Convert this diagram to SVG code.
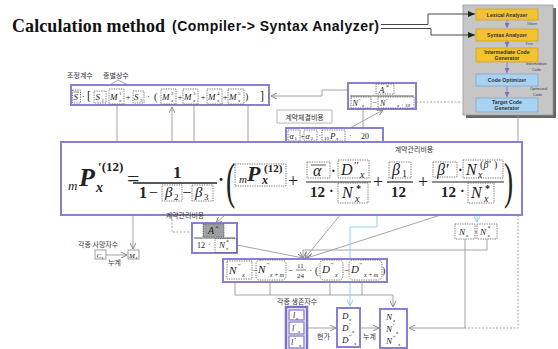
<svg xmlns="http://www.w3.org/2000/svg" width="558" height="349" viewBox="0 0 558 349">
<defs>
<marker id="ag" markerWidth="6" markerHeight="6" refX="6" refY="3" orient="auto" markerUnits="userSpaceOnUse"><path d="M0,0 L6,3 L0,6" fill="none" stroke="#888" stroke-width="1"/></marker>
<marker id="ad" markerWidth="7" markerHeight="6" refX="7" refY="3" orient="auto" markerUnits="userSpaceOnUse"><path d="M0,0 L7,3 L0,6 z" fill="#222"/></marker>
<marker id="ac" markerWidth="6" markerHeight="6" refX="6" refY="3" orient="auto" markerUnits="userSpaceOnUse"><path d="M0,0 L6,3 L0,6" fill="none" stroke="#8fd3e3" stroke-width="1"/></marker>
<marker id="ap" markerWidth="5" markerHeight="5" refX="5" refY="2.5" orient="auto" markerUnits="userSpaceOnUse"><path d="M0,0 L5,2.5 L0,5 z" fill="#7a70c8"/></marker>
</defs>
<style>
.pb{fill:#fff;stroke:#8a80d0;stroke-width:2}
.db{fill:none;stroke:#555;stroke-width:0.8;stroke-dasharray:1.3 1.1}
.ln{fill:none;stroke:#9a9a9a;stroke-width:0.9}
.dl{fill:none;stroke:#9a9a9a;stroke-width:0.9;stroke-dasharray:2 1.5}
.cy{fill:none;stroke:#8fd3e3;stroke-width:1}
.m{font-family:"Liberation Serif",serif;font-style:italic;fill:#222}
.n{font-family:"Liberation Serif",serif;fill:#222}
.b{font-weight:bold}
.k{font-family:"Noto Sans CJK KR",sans-serif;font-size:7px;fill:#333}
.yb{fill:#f2c230;stroke:#c99a10;stroke-width:0.6}
.bb{fill:#a9d2f2;stroke:#6f9fc8;stroke-width:0.6}
.pt{font-family:"Liberation Sans",sans-serif;font-weight:bold;font-size:5.2px;fill:#333;text-anchor:middle}
.pl{font-family:"Liberation Sans",sans-serif;font-size:3.8px;fill:#444;text-anchor:end}
</style>
<rect width="558" height="349" fill="#fff"/>

<g id="title">
<text x="12" y="32" font-family="Liberation Serif" font-weight="bold" font-size="18" textLength="153" fill="#111">Calculation method</text>
<text x="172" y="31" font-family="Liberation Sans" font-weight="bold" font-size="14" textLength="207" fill="#111">(Compiler-&gt; Syntax Analyzer)</text>
</g>

<g id="compiler-panel">
<rect x="466" y="8" width="90" height="110" fill="#666"/>
<rect x="463" y="5" width="90" height="110" fill="#c6c6c6" stroke="#999" stroke-width="0.8"/>
<g id="lexical"><rect class="yb" x="476" y="9" width="62" height="11"/><text class="pt" x="507" y="16.5">Lexical Analyzer</text></g>
<g id="syntax"><rect class="yb" x="476" y="29" width="62" height="12"/><text class="pt" x="507" y="37">Syntax Analyzer</text></g>
<g id="intermediate"><rect class="yb" x="476" y="48" width="62" height="14"/><text class="pt" x="507" y="54">Intermediate Code</text><text class="pt" x="507" y="60">Generator</text></g>
<g id="optimizer"><rect class="bb" x="476" y="74" width="62" height="12"/><text class="pt" x="507" y="82">Code Optimizer</text></g>
<g id="target"><rect class="bb" x="476" y="98" width="62" height="14"/><text class="pt" x="507" y="104">Target Code</text><text class="pt" x="507" y="110">Generator</text></g>
<text class="pl" x="537" y="25">Token</text>
<text class="pl" x="533" y="45">Tree</text>
<text class="pl" x="547" y="65">Intermediate</text>
<text class="pl" x="541" y="71">Code</text>
<text class="pl" x="547" y="90">Optimized</text>
<text class="pl" x="542" y="96">Code</text>
</g>

<g id="connectors">
<path d="M381,24.5 H428 V14 H475" fill="none" stroke="#333" stroke-width="0.9" marker-end="url(#ad)"/>
<path d="M381,28.5 H431 V35 H475" fill="none" stroke="#333" stroke-width="0.9" marker-end="url(#ad)"/>
<path d="M507,20 V28" stroke="#7a70c8" stroke-width="0.8" marker-end="url(#ap)"/>
<path d="M507,41 V47" stroke="#7a70c8" stroke-width="0.8" marker-end="url(#ap)"/>
<path d="M507,62 V73" stroke="#7a70c8" stroke-width="0.8" marker-end="url(#ap)"/>
<path d="M507,86 V97" stroke="#7a70c8" stroke-width="0.8" marker-end="url(#ap)"/>
<path class="ln" d="M118,80 L108,86 M118,80 L130,86"/>
<path class="ln" d="M348,90 H322 V96 H271" marker-end="url(#ag)"/>
<path class="ln" d="M350,128 L383,110" marker-end="url(#ag)"/>
<path class="ln" d="M363,109 V128"/>
<path class="dl" d="M416,102 H462"/>
<path class="ln" d="M117,105 V166 M194,105 V166 M117,166 H194 M248,105 V164"/>
<path class="ln" d="M133,166 V249" marker-end="url(#ag)"/>
<path class="ln" d="M172,215 V107" marker-end="url(#ag)"/>
<path class="dl" d="M203,232 H172 V215"/>
<path class="ln" d="M258,186 L216,223" marker-end="url(#ag)"/>
<path class="ln" d="M172,201 L183,210" marker-end="url(#ag)"/>
<path class="ln" d="M202,201 L189,210" marker-end="url(#ag)"/>
<path class="ln" d="M416,154 L403,162" marker-end="url(#ag)"/>
<path class="ln" d="M419,154 L445,162" marker-end="url(#ag)"/>
<path class="ln" d="M106,255 H127" marker-end="url(#ag)"/>
<path class="ln" d="M237,245 L303,258" marker-end="url(#ag)"/>
<path class="ln" d="M350,203 L305,258" marker-end="url(#ag)"/>
<path class="ln" d="M478,203 L307,258" marker-end="url(#ag)"/>
<path class="ln" d="M487,239 V250 H303 V258" marker-end="url(#ag)"/>
<path class="ln" d="M235,282 V295 M270,282 V295 M330,282 V295 M362,282 V295 M235,295 H393 V307" marker-end="url(#ag)"/>
<path class="ln" d="M308,328 H336" marker-end="url(#ag)"/>
<path class="ln" d="M361,328 H379" marker-end="url(#ag)"/>
<path class="ln" d="M518,116 V215"/>
<path class="dl" d="M518,215 V328 H465"/>
<path class="ln" d="M465,239 V328 H409" marker-end="url(#ag)"/>
<path class="cy" d="M503,168 H513 V207 H477 V222" marker-end="url(#ac)"/>
<path class="cy" d="M369,168 H377 V227 H350 V306" marker-end="url(#ac)"/>
</g>

<g id="top-formula">
<text class="k" x="67" y="78" font-size="8">조정계수</text>
<text class="k" x="103" y="78" font-size="8">종별상수</text>
<rect class="pb" x="71" y="85" width="198" height="20"/>
<rect class="db" x="72.5" y="90" width="8" height="13"/><text class="m" x="73.5" y="100" font-size="9">S</text><line x1="73.5" y1="92" x2="79" y2="92" stroke="#333" stroke-width="0.6"/>
<text class="n" x="82" y="99" font-size="9">·</text>
<text class="n" x="87" y="100" font-size="12">[</text>
<rect class="db" x="94" y="91" width="12" height="12"/><text class="m" x="95.5" y="100" font-size="9">S</text><text class="n" x="101.5" y="102" font-size="5">1</text>
<rect class="db" x="109" y="89" width="15" height="15"/><text class="m" x="110" y="100" font-size="9">M</text><text class="n" x="119" y="95" font-size="5">1</text><text class="m" x="119" y="102" font-size="5">x</text>
<text class="n" x="125.5" y="100" font-size="9">+</text>
<rect class="db" x="133" y="91" width="11" height="12"/><text class="m" x="134" y="100" font-size="9">S</text><text class="n" x="140" y="102" font-size="5">2</text>
<text class="n" x="147" y="99" font-size="9">·</text>
<text class="n" x="154" y="100" font-size="10">(</text>
<rect class="db" x="161" y="89" width="15" height="15"/><text class="m" x="162" y="100" font-size="9">M</text><text class="n" x="171" y="95" font-size="5">2</text><text class="m" x="171" y="102" font-size="5">x</text>
<text class="n" x="177.5" y="100" font-size="9">+</text>
<rect class="db" x="183" y="89" width="15" height="15"/><text class="m" x="184" y="100" font-size="9">M</text><text class="n" x="193" y="95" font-size="5">3</text><text class="m" x="193" y="102" font-size="5">x</text>
<text class="n" x="200.5" y="100" font-size="9">+</text>
<rect class="db" x="207" y="89" width="15" height="15"/><text class="m" x="208" y="100" font-size="9">M</text><text class="n" x="217" y="95" font-size="5">4</text><text class="m" x="217" y="102" font-size="5">x</text>
<text class="n" x="222.5" y="100" font-size="9">+</text>
<rect class="db" x="228" y="89" width="16" height="15"/><text class="m" x="229" y="100" font-size="9">M</text><text class="n" x="238" y="95" font-size="5">5</text><text class="m" x="238" y="102" font-size="5">x</text>
<text class="n" x="245" y="100" font-size="10">)</text>
<text class="n" x="260" y="100" font-size="12">]</text>
</g>

<g id="a-star-ratio">
<rect class="pb" x="348" y="83" width="68" height="26"/>
<rect class="db" x="376" y="84" width="18" height="10"/><text class="m" x="379" y="92.5" font-size="9">A</text><text class="n" x="386" y="89" font-size="6">*</text>
<line x1="350" y1="96" x2="414" y2="96" stroke="#333" stroke-width="0.8"/>
<rect class="db" x="351" y="97" width="20" height="11"/><text class="m" x="352.5" y="105.5" font-size="8">N</text><text class="n" x="358.5" y="101.5" font-size="5">′′</text><text class="m" x="362" y="107" font-size="5">x</text>
<text class="n" x="372.5" y="105" font-size="8">−</text>
<rect class="db" x="378" y="97" width="36" height="11"/><text class="m" x="380" y="105.5" font-size="8">N</text><text class="n" x="386" y="101.5" font-size="5">′′</text><text class="m" x="397" y="107" font-size="5">x + 10</text>
</g>

<g id="contract-cost-label">
<rect x="277" y="110" width="55" height="13" fill="#fff" stroke="#999" stroke-width="0.7"/>
<text class="k" x="304.5" y="119.5" text-anchor="middle">계약체결비용</text>
</g>

<g id="alpha-box">
<rect class="pb" x="286" y="128" width="97" height="15"/>
<rect class="db" x="288" y="130" width="12" height="11"/><text class="m" x="289.5" y="138.5" font-size="8">α</text><text class="n" x="294.5" y="140" font-size="5">1</text>
<text class="n" x="300.5" y="138.5" font-size="7">+</text>
<rect class="db" x="304" y="130" width="13" height="11"/><text class="m" x="305.5" y="138.5" font-size="8">α</text><text class="n" x="310.5" y="140" font-size="5">2</text>
<text class="n" x="318.5" y="138" font-size="8">·</text>
<rect class="db" x="322" y="130" width="23" height="11"/><text class="n" x="324" y="140" font-size="5">10</text><text class="m" x="330" y="138.5" font-size="9">P</text><text class="m" x="336" y="140" font-size="5">x</text>
<text class="n" x="349" y="138" font-size="8">·</text>
<text class="n" x="361" y="138.5" font-size="8">20</text>
</g>

<g id="main-formula">
<rect class="pb" x="61" y="142" width="461" height="73" fill="none"/>
<text class="m" x="68" y="190" font-size="13">m</text>
<text class="m b" x="79" y="186" font-size="26">P</text>
<text class="m b" x="96" y="192" font-size="14">x</text>
<text class="n b" x="98" y="171" font-size="13">′(12)</text>
<text class="n" x="127" y="186" font-size="22">=</text>
<text class="n b" x="173" y="178" font-size="17">1</text>
<line x1="133" y1="183" x2="217" y2="183" stroke="#222" stroke-width="1.3"/>
<text class="n b" x="139" y="198" font-size="16">1</text>
<text class="n" x="149" y="198" font-size="16">−</text>
<rect class="db" x="162" y="185" width="20" height="16"/><text class="m" x="165" y="197" font-size="15">β</text><text class="n" x="174" y="200" font-size="9">2</text>
<text class="n" x="182.5" y="198" font-size="16">−</text>
<rect class="db" x="192" y="185" width="21" height="16"/><text class="m" x="195" y="197" font-size="15">β</text><text class="n" x="204" y="200" font-size="9">3</text>
<text class="n b" x="218" y="186" font-size="18">·</text>
<text class="n" transform="translate(226,198) scale(0.55,1)" font-size="50">(</text>
<rect class="db" x="235" y="164" width="51" height="22"/>
<text class="m" x="239" y="183" font-size="11">m</text>
<text class="m b" x="247" y="181" font-size="22">P</text>
<text class="m b" x="262" y="184" font-size="12">x</text>
<text class="n b" x="264" y="172" font-size="11">(12)</text>
<text class="n" x="288" y="187" font-size="18">+</text>

<rect class="db" x="307" y="162" width="23" height="16"/><line x1="311" y1="165" x2="326" y2="165" stroke="#333" stroke-width="0.8"/><text class="m" x="313" y="176" font-size="16">α</text>
<text class="n b" x="331" y="176" font-size="14">·</text>
<rect class="db" x="338" y="160" width="31" height="18"/><text class="m" x="341" y="175" font-size="16">D</text><text class="n" x="354" y="169" font-size="11">′′</text><text class="m" x="360" y="178" font-size="10">x</text>
<line x1="306" y1="182" x2="371" y2="182" stroke="#222" stroke-width="1.2"/>
<text class="n b" x="310" y="197" font-size="15">12</text>
<text class="n b" x="329" y="196" font-size="14">·</text>
<rect class="db" x="338" y="183" width="30" height="20"/><text class="m" x="342" y="198" font-size="16">N</text><text class="n b" x="356" y="192" font-size="10">*</text><text class="m" x="355" y="202" font-size="10">x</text>
<text class="n" x="373" y="188" font-size="18">+</text>

<rect class="db" x="389" y="162" width="22" height="16"/><text class="m" x="392" y="175" font-size="16">β</text><text class="n" x="402" y="177" font-size="10">1</text>
<line x1="387" y1="182" x2="413" y2="182" stroke="#222" stroke-width="1.2"/>
<text class="n b" x="391" y="197" font-size="15">12</text>
<text class="n" x="418" y="188" font-size="18">+</text>

<rect class="db" x="433" y="162" width="24" height="15"/><text class="m" x="437" y="175" font-size="16">β′</text>
<text class="n b" x="458" y="175" font-size="14">·</text>
<rect class="db" x="463" y="160" width="40" height="18"/><text class="m" x="466" y="175" font-size="16">N</text><text class="n" x="480" y="168" font-size="10">(</text><text class="m" x="483.5" y="168" font-size="10">β′</text><text class="n" x="494" y="168" font-size="10">)</text><text class="m" x="478" y="178" font-size="10">x</text>
<line x1="432" y1="182" x2="504" y2="182" stroke="#222" stroke-width="1.2"/>
<text class="n b" x="441" y="197" font-size="15">12</text>
<text class="n b" x="460" y="196" font-size="14">·</text>
<rect class="db" x="468" y="183" width="26" height="20"/><text class="m" x="471" y="198" font-size="16">N</text><text class="n b" x="485" y="192" font-size="10">*</text><text class="m" x="484" y="202" font-size="10">x</text>
<text class="n" transform="translate(504,198) scale(0.55,1)" font-size="50">)</text>
<text class="k" x="414" y="152" text-anchor="middle">계약관리비용</text>
</g>

<g id="mgmt-label-lower">
<text class="k" x="185" y="218" text-anchor="middle">계약관리비용</text>
</g>

<g id="a-star-12">
<rect class="pb" x="192" y="223" width="45" height="30"/>
<rect x="203" y="224" width="21" height="13" fill="#9aa0a0" stroke="#555" stroke-width="0.8" stroke-dasharray="1.3 1.1"/>
<text class="m" x="208" y="234" font-size="10">A</text><text class="n" x="215.5" y="230" font-size="6">*</text>
<line x1="194" y1="238" x2="235" y2="238" stroke="#333" stroke-width="0.8"/>
<text class="n" x="197" y="248" font-size="8">12</text>
<text class="n" x="208" y="247" font-size="8">·</text>
<rect class="db" x="215" y="238.5" width="22" height="14"/><text class="m" x="219" y="248" font-size="9">N</text><text class="n" x="226" y="244" font-size="6">*</text><text class="m" x="226" y="250" font-size="5">x</text>
</g>

<g id="deaths">
<text class="k" x="78" y="247" font-size="8">각종 사망자수</text>
<rect x="95" y="250" width="11" height="9" fill="#fff" stroke="#777" stroke-width="0.7"/><text class="m" x="96.5" y="257.5" font-size="7">C</text><text class="m" x="101.5" y="259" font-size="4">x</text>
<rect x="128" y="250" width="11" height="9" fill="#fff" stroke="#777" stroke-width="0.7"/><text class="m" x="129" y="257.5" font-size="7">M</text><text class="m" x="135.5" y="259" font-size="4">x</text>
<text class="k" x="108" y="265">누계</text>
</g>

<g id="n-formula">
<rect class="pb" x="223" y="259" width="164" height="23"/>
<rect class="db" x="227" y="261" width="25" height="18"/><text class="m" x="229" y="274" font-size="11">N</text><text class="n" x="237.5" y="268" font-size="7">′′</text><text class="m" x="242" y="277" font-size="6">x</text>
<text class="n" x="252.5" y="273" font-size="9">−</text>
<rect class="db" x="256" y="260" width="30" height="20" rx="4"/><text class="m" x="258" y="273" font-size="11">N</text><text class="n" x="266.5" y="267" font-size="7">′′</text><text class="m" x="270" y="277" font-size="6">x + m</text>
<text class="n" x="288" y="273" font-size="9">−</text>
<text class="n" x="297" y="268" font-size="7">11</text>
<line x1="296" y1="270" x2="306" y2="270" stroke="#333" stroke-width="0.6"/>
<text class="n" x="297" y="278" font-size="7">24</text>
<text class="n" x="309" y="273" font-size="9">·</text>
<text class="n" x="315" y="274" font-size="10">(</text>
<rect class="db" x="320" y="260" width="23" height="20" rx="4"/><text class="m" x="322" y="273" font-size="11">D</text><text class="n" x="330.5" y="267" font-size="7">′′</text><text class="m" x="335" y="277" font-size="6">x</text>
<text class="n" x="344" y="273" font-size="9">−</text>
<rect class="db" x="349" y="260" width="33" height="20" rx="4"/><text class="m" x="351" y="273" font-size="11">D</text><text class="n" x="359.5" y="267" font-size="7">′′</text><text class="m" x="364" y="277" font-size="6">x + m</text>
<text class="n" x="382" y="274" font-size="10">)</text>
</g>

<g id="nx-boxes">
<rect class="db" x="455" y="224" width="20" height="15"/><text class="m" x="459" y="235" font-size="9">N</text><text class="m" x="466" y="237" font-size="5">x</text>
<line x1="475" y1="232" x2="477" y2="232" stroke="#555" stroke-width="0.7"/>
<rect class="db" x="477" y="224" width="20" height="15"/><text class="m" x="480" y="235" font-size="9">N</text><text class="n" x="487.5" y="230" font-size="6">*</text><text class="m" x="487.5" y="237" font-size="5">x</text>
</g>

<g id="survivors">
<text class="k" x="277" y="304" font-size="8">각종 생존자수</text>
<rect x="286" y="307" width="21" height="43" fill="#fff" stroke="#7a70c8" stroke-width="2.5"/>
<rect x="289" y="310" width="15" height="10" fill="#fff" stroke="#7a70c8" stroke-width="1.2"/><text class="m" x="293" y="318" font-size="8">l</text><text class="m" x="296" y="320" font-size="5">x</text>
<rect x="289" y="322" width="15" height="12" fill="#fff" stroke="#7a70c8" stroke-width="1.2"/><text class="m" x="292" y="331" font-size="8">l</text><text class="n" x="295" y="327" font-size="5">′</text><text class="m" x="298" y="333" font-size="5">x</text>
<rect x="289" y="336" width="15" height="12" fill="#fff" stroke="#7a70c8" stroke-width="1.2"/><text class="m" x="291" y="345" font-size="8">l</text><text class="n" x="294" y="341" font-size="5">′′</text><text class="m" x="299" y="347" font-size="5">x</text>
<text class="k" x="317" y="339">현가</text>
</g>

<g id="d-box">
<rect class="pb" x="337" y="308" width="23" height="39"/>
<text class="m" x="342" y="319" font-size="9">D</text><text class="m" x="349" y="321" font-size="5">x</text>
<text class="m" x="342" y="331" font-size="9">D</text><text class="n" x="349" y="327" font-size="6">′</text><text class="m" x="352" y="333" font-size="5">x</text>
<text class="m" x="342" y="343" font-size="9">D</text><text class="n" x="349" y="339" font-size="6">′′</text><text class="m" x="354" y="345" font-size="5">x</text>
<text class="k" x="363" y="339">누계</text>
</g>

<g id="n-box">
<rect class="pb" x="380" y="309" width="27" height="39"/>
<text class="m" x="386" y="320" font-size="9">N</text><text class="m" x="393" y="322" font-size="5">x</text>
<text class="m" x="386" y="332" font-size="9">N</text><text class="n" x="393" y="328" font-size="6">′</text><text class="m" x="396" y="334" font-size="5">x</text>
<text class="m" x="386" y="344" font-size="9">N</text><text class="n" x="393" y="340" font-size="6">′′</text><text class="m" x="398" y="346" font-size="5">x</text>
</g>
</svg>
